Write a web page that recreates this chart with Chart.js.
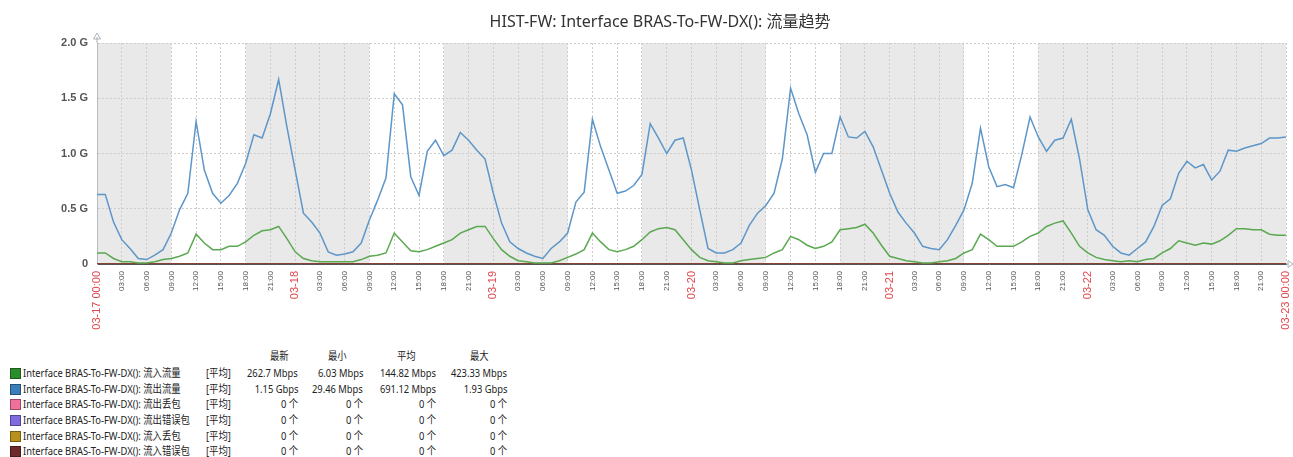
<!DOCTYPE html>
<html>
<head>
<meta charset="utf-8">
<script src="https://cdn.jsdelivr.net/npm/chart.js@4.4.1/dist/chart.umd.min.js"></script>
<style>
  body { margin: 0; background: #fff; font-family: "Noto Sans", "Noto Sans CJK SC", sans-serif; }
  #wrap { position: relative; width: 1293px; height: 457px; overflow: hidden; }
  #box { position: absolute; left: 0; top: 0; width: 1293px; height: 345px; }
  .lg { position: absolute; font-size: 11px; line-height: 14px; color: #222; white-space: nowrap; transform: scaleX(0.85); transform-origin: left center; }
  .lg.r { transform-origin: right center; }
  .sw { position: absolute; width: 9px; height: 9px; border: 1px solid rgba(0,0,0,0.35); }
</style>
</head>
<body>
<div id="wrap">
  <div id="box"><canvas id="c"></canvas></div>
  <div id="legend"></div>
</div>
<script>
const titleText = 'HIST-FW: Interface BRAS-To-FW-DX(): 流量趋势';
const dayLabels = ['03-17', '03-18', '03-19', '03-20', '03-21', '03-22', '03-23'];

// hourly averages, Gbps, from 03-17 00:00 to 03-23 00:00
const inTraffic = [
  0.10, 0.10, 0.05, 0.02, 0.02, 0.01, 0.01, 0.02, 0.04, 0.05, 0.07, 0.10,
  0.27, 0.19, 0.13, 0.13, 0.16, 0.16, 0.20, 0.26, 0.30, 0.31, 0.34, 0.23,
  0.11, 0.05, 0.03, 0.02, 0.02, 0.02, 0.02, 0.02, 0.04, 0.07, 0.08, 0.10,
  0.28, 0.20, 0.12, 0.11, 0.13, 0.16, 0.19, 0.22, 0.28, 0.31, 0.34, 0.34,
  0.23, 0.13, 0.07, 0.03, 0.02, 0.01, 0.01, 0.01, 0.03, 0.06, 0.09, 0.13,
  0.28, 0.20, 0.13, 0.11, 0.13, 0.16, 0.22, 0.29, 0.32, 0.33, 0.31, 0.22,
  0.13, 0.06, 0.03, 0.02, 0.01, 0.01, 0.03, 0.04, 0.05, 0.06, 0.10, 0.13,
  0.25, 0.22, 0.17, 0.14, 0.16, 0.20, 0.31, 0.32, 0.33, 0.36, 0.28, 0.17,
  0.07, 0.05, 0.03, 0.02, 0.01, 0.01, 0.02, 0.03, 0.05, 0.10, 0.13, 0.27,
  0.22, 0.16, 0.16, 0.16, 0.20, 0.25, 0.28, 0.34, 0.37, 0.39, 0.28, 0.16,
  0.10, 0.06, 0.04, 0.03, 0.02, 0.03, 0.02, 0.04, 0.05, 0.10, 0.14, 0.21,
  0.19, 0.17, 0.19, 0.18, 0.21, 0.26, 0.32, 0.32, 0.31, 0.31, 0.27, 0.26,
  0.26
];
const outTraffic = [
  0.63, 0.63, 0.38, 0.22, 0.14, 0.05, 0.04, 0.08, 0.13, 0.28, 0.49, 0.64,
  1.29, 0.85, 0.64, 0.55, 0.62, 0.73, 0.91, 1.17, 1.14, 1.36, 1.67, 1.24,
  0.85, 0.46, 0.38, 0.28, 0.11, 0.08, 0.09, 0.11, 0.19, 0.40, 0.58, 0.78,
  1.54, 1.44, 0.79, 0.62, 1.02, 1.12, 0.98, 1.03, 1.19, 1.12, 1.03, 0.95,
  0.64, 0.37, 0.20, 0.14, 0.10, 0.07, 0.05, 0.14, 0.20, 0.28, 0.56, 0.65,
  1.31, 1.06, 0.85, 0.64, 0.66, 0.71, 0.81, 1.27, 1.14, 1.00, 1.12, 1.14,
  0.85, 0.49, 0.14, 0.10, 0.10, 0.13, 0.19, 0.35, 0.46, 0.53, 0.64, 0.95,
  1.59, 1.36, 1.17, 0.83, 1.00, 1.00, 1.33, 1.15, 1.14, 1.20, 1.06, 0.85,
  0.64, 0.47, 0.37, 0.28, 0.16, 0.14, 0.13, 0.22, 0.35, 0.49, 0.73, 1.23,
  0.88, 0.70, 0.72, 0.69, 0.99, 1.33, 1.15, 1.02, 1.12, 1.14, 1.31, 0.95,
  0.49, 0.31, 0.26, 0.16, 0.10, 0.08, 0.14, 0.20, 0.34, 0.53, 0.59, 0.82,
  0.93, 0.87, 0.90, 0.76, 0.84, 1.03, 1.02, 1.05, 1.07, 1.09, 1.14, 1.14,
  1.15
];
// the error / drop counters stay at zero the whole week
const zeroHours = [0, 24, 48, 72, 96, 120, 144];
const dropOut = [0, 0, 0, 0, 0, 0, 0];
const errOut = [0, 0, 0, 0, 0, 0, 0];
const dropIn = [0, 0, 0, 0, 0, 0, 0];
const errIn = [0, 0, 0, 0, 0, 0, 0];

// working time (white), hours from start
const workTime = [[9, 18], [33, 42], [57, 66], [81, 90], [105, 114]];

const seriesNames = [
  'Interface BRAS-To-FW-DX(): 流入流量',
  'Interface BRAS-To-FW-DX(): 流出流量',
  'Interface BRAS-To-FW-DX(): 流出丢包',
  'Interface BRAS-To-FW-DX(): 流出错误包',
  'Interface BRAS-To-FW-DX(): 流入丢包',
  'Interface BRAS-To-FW-DX(): 流入错误包'
];
const swatchColors = ['#2b8c2b', '#3a7db8', '#f0709c', '#7d6be0', '#b8901e', '#6e2a2a'];
const lineColors = ['#5aa84f', '#5d96c9', '#f0709c', '#7d6be0', '#b8901e', '#7a2c2c'];
const statHeads = ['最新', '最小', '平均', '最大'];
const lastVals = ['262.7 Mbps', '1.15 Gbps', '0 个', '0 个', '0 个', '0 个'];
const minVals = ['6.03 Mbps', '29.46 Mbps', '0 个', '0 个', '0 个', '0 个'];
const avgVals = ['144.82 Mbps', '691.12 Mbps', '0 个', '0 个', '0 个', '0 个'];
const maxVals = ['423.33 Mbps', '1.93 Gbps', '0 个', '0 个', '0 个', '0 个'];

const tickHours = [];
for (let h = 0; h <= 144; h += 3) tickHours.push(h);

function pts(arr) { return arr.map((v, i) => ({ x: i, y: v })); }
function zpts(arr) { return arr.map((v, i) => ({ x: zeroHours[i], y: v })); }

function hourLabel(v) {
  if (v % 24 === 0) {
    const d = dayLabels[v / 24];
    return (v === 0 || v === 144) ? d + ' 00:00' : d;
  }
  const h = v % 24;
  return (h < 10 ? '0' : '') + h + ':00';
}

const bands = {
  id: 'bands',
  beforeDraw(chart) {
    const { ctx, chartArea: a, scales: { x } } = chart;
    ctx.save();
    ctx.fillStyle = '#e9e9e9';
    ctx.fillRect(a.left, a.top, a.right - a.left, a.bottom - a.top);
    ctx.fillStyle = '#ffffff';
    workTime.forEach(([s, e]) => {
      const x1 = x.getPixelForValue(s), x2 = x.getPixelForValue(e);
      ctx.fillRect(x1, a.top, x2 - x1, a.bottom - a.top);
    });
    ctx.restore();
  },
  afterDraw(chart) {
    const { ctx, chartArea: a } = chart;
    ctx.save();
    ctx.fillStyle = '#333';
    ctx.font = '16px "Noto Sans", "Noto Sans CJK SC", sans-serif';
    ctx.textAlign = 'center';
    ctx.textBaseline = 'middle';
    ctx.fillText(titleText, 660, 22);
    // little axis arrows
    ctx.strokeStyle = '#aab2b8';
    ctx.lineWidth = 1;
    ctx.beginPath();
    ctx.moveTo(a.left, a.top);
    ctx.lineTo(a.left, a.top - 6);
    ctx.moveTo(a.left - 3.5, a.top - 4);
    ctx.lineTo(a.left, a.top - 10);
    ctx.lineTo(a.left + 3.5, a.top - 4);
    ctx.closePath();
    ctx.stroke();
    ctx.beginPath();
    ctx.moveTo(a.right, a.bottom);
    ctx.lineTo(a.right + 3, a.bottom);
    ctx.moveTo(a.right + 2, a.bottom - 3.5);
    ctx.lineTo(a.right + 7, a.bottom);
    ctx.lineTo(a.right + 2, a.bottom + 3.5);
    ctx.closePath();
    ctx.stroke();
    ctx.restore();
  }
};

const datasets = [
  { data: pts(inTraffic), borderColor: lineColors[0], order: 2 },
  { data: pts(outTraffic), borderColor: lineColors[1], order: 1 },
  { data: zpts(dropOut), borderColor: lineColors[2], order: 6 },
  { data: zpts(errOut), borderColor: lineColors[3], order: 5 },
  { data: zpts(dropIn), borderColor: lineColors[4], order: 4 },
  { data: zpts(errIn), borderColor: lineColors[5], order: 3 }
].map((d, i) => Object.assign({ label: seriesNames[i], borderWidth: 1.5, pointRadius: 0, tension: 0, fill: false }, d));

new Chart(document.getElementById('c'), {
  type: 'line',
  data: { datasets },
  options: {
    responsive: true,
    maintainAspectRatio: false,
    animation: false,
    layout: { padding: { top: 43, right: 7, left: 0, bottom: 0 } },
    plugins: { legend: { display: false }, tooltip: { enabled: false }, title: { display: false } },
    scales: {
      x: {
        type: 'linear',
        min: 0,
        max: 144,
        afterBuildTicks(s) { s.ticks = tickHours.map(v => ({ value: v })); },
        afterFit(s) { s.height = 81; s.paddingLeft = 0; s.paddingRight = 0; },
        grid: { color: '#cdcdcd', drawTicks: false },
        border: { color: '#555', dash: [2, 2] },
        ticks: {
          autoSkip: false,
          minRotation: 90,
          maxRotation: 90,
          padding: 7,
          callback: v => hourLabel(v),
          color: c => (c.tick && c.tick.value % 24 === 0) ? '#e0474c' : '#555',
          font: c => (c.tick && c.tick.value % 24 === 0) ? { size: 11 } : { size: 8 }
        }
      },
      y: {
        min: 0,
        max: 2,
        afterFit(s) { s.width = 97; },
        grid: { color: '#cdcdcd', drawTicks: false },
        border: { color: '#b4bcc2', dash: [2, 2] },
        ticks: {
          stepSize: 0.5,
          padding: 9,
          color: '#555',
          font: { size: 11, weight: 'bold' },
          callback: v => v === 0 ? '0' : v.toFixed(1) + ' G'
        }
      }
    }
  },
  plugins: [bands]
});

// legend table under the chart
const lg = document.getElementById('legend');
function put(text, left, top, align) {
  const el = document.createElement('div');
  el.className = 'lg';
  el.textContent = text;
  el.style.top = top + 'px';
  if (align === 'right') {
    el.className = 'lg r';
    el.style.right = (1293 - left) + 'px';
  } else {
    el.style.left = left + 'px';
  }
  lg.appendChild(el);
}
const headLeft = [270, 328, 397, 470];
statHeads.forEach((t, i) => put(t, headLeft[i], 349));
const colRight = [298, 363, 436, 507];
const rowY = [373, 389, 404, 420, 436, 451];
seriesNames.forEach((name, i) => {
  const sw = document.createElement('div');
  sw.className = 'sw';
  sw.style.left = '10px';
  sw.style.top = (rowY[i] - 5) + 'px';
  sw.style.background = swatchColors[i];
  lg.appendChild(sw);
  put(name, 23, rowY[i] - 7);
  put('[平均]', 206, rowY[i] - 7);
  [lastVals, minVals, avgVals, maxVals].forEach((col, j) => put(col[i], colRight[j], rowY[i] - 7, 'right'));
});
</script>
</body>
</html>
